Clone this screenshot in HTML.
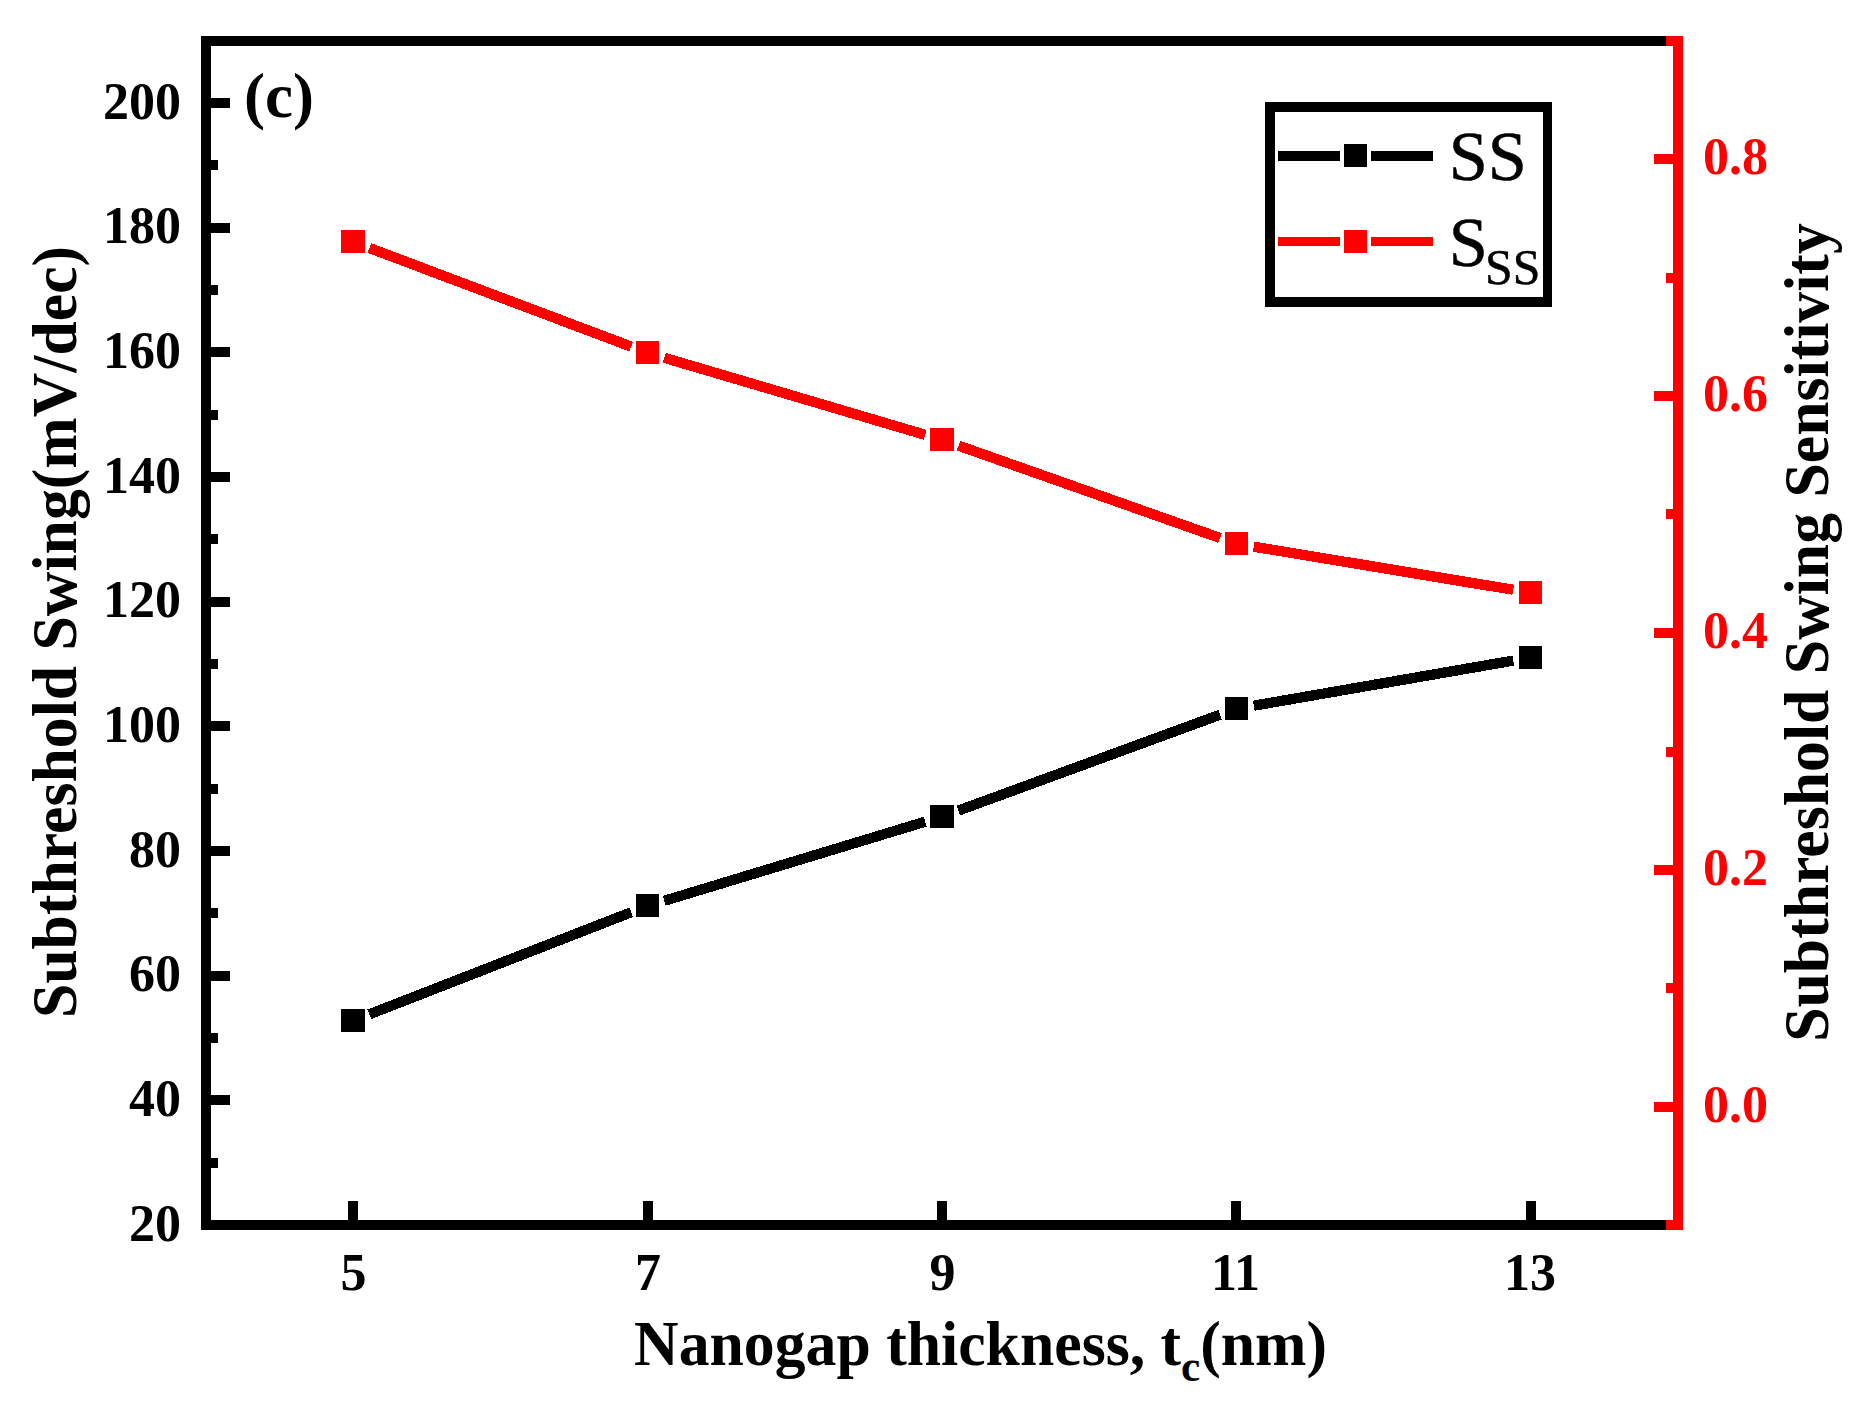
<!DOCTYPE html>
<html lang="en"><head><meta charset="utf-8"><title>Subthreshold Swing vs Nanogap thickness</title>
<style>html,body{margin:0;padding:0;background:#fff;}svg{display:block}text{font-family:"Liberation Serif",serif;}.b{font-weight:bold}.r{stroke:#000;stroke-width:0.5px}</style></head><body>
<svg width="1864" height="1414" viewBox="0 0 1864 1414">
<rect x="0" y="0" width="1864" height="1414" fill="#fff"/>
<g shape-rendering="crispEdges">
<rect x="201" y="36" width="10" height="1194" fill="#000"/>
<rect x="201" y="36" width="1472" height="10" fill="#000"/>
<rect x="201" y="1220" width="1472" height="10" fill="#000"/>
<rect x="1673" y="36" width="10" height="1194" fill="#f00"/>
<rect x="1666" y="36" width="7" height="10" fill="#f00"/>
<rect x="1666" y="1220" width="7" height="10" fill="#f00"/>
<rect x="211" y="1158" width="7" height="10" fill="#000"/>
<rect x="211" y="1095" width="19" height="10" fill="#000"/>
<rect x="211" y="1033" width="7" height="10" fill="#000"/>
<rect x="211" y="971" width="19" height="10" fill="#000"/>
<rect x="211" y="908" width="7" height="10" fill="#000"/>
<rect x="211" y="846" width="19" height="10" fill="#000"/>
<rect x="211" y="784" width="7" height="10" fill="#000"/>
<rect x="211" y="721" width="19" height="10" fill="#000"/>
<rect x="211" y="659" width="7" height="10" fill="#000"/>
<rect x="211" y="597" width="19" height="10" fill="#000"/>
<rect x="211" y="534" width="7" height="10" fill="#000"/>
<rect x="211" y="472" width="19" height="10" fill="#000"/>
<rect x="211" y="410" width="7" height="10" fill="#000"/>
<rect x="211" y="347" width="19" height="10" fill="#000"/>
<rect x="211" y="285" width="7" height="10" fill="#000"/>
<rect x="211" y="223" width="19" height="10" fill="#000"/>
<rect x="211" y="160" width="7" height="10" fill="#000"/>
<rect x="211" y="98" width="19" height="10" fill="#000"/>
<rect x="348" y="1201" width="10" height="19" fill="#000"/>
<rect x="643" y="1201" width="10" height="19" fill="#000"/>
<rect x="937" y="1201" width="10" height="19" fill="#000"/>
<rect x="1231" y="1201" width="10" height="19" fill="#000"/>
<rect x="1526" y="1201" width="10" height="19" fill="#000"/>
<rect x="1654" y="1102" width="19" height="10" fill="#f00"/>
<rect x="1666" y="983" width="7" height="10" fill="#f00"/>
<rect x="1654" y="865" width="19" height="10" fill="#f00"/>
<rect x="1666" y="747" width="7" height="10" fill="#f00"/>
<rect x="1654" y="628" width="19" height="10" fill="#f00"/>
<rect x="1666" y="509" width="7" height="10" fill="#f00"/>
<rect x="1654" y="391" width="19" height="10" fill="#f00"/>
<rect x="1666" y="273" width="7" height="10" fill="#f00"/>
<rect x="1654" y="154" width="19" height="10" fill="#f00"/>
</g>
<g shape-rendering="crispEdges" fill="#000" stroke="#000">
<line x1="369.30" y1="1014.34" x2="631.20" y2="912.26" stroke-width="10.3"/>
<line x1="664.25" y1="900.82" x2="925.25" y2="821.68" stroke-width="10.3"/>
<line x1="958.43" y1="810.58" x2="1220.07" y2="714.72" stroke-width="10.3"/>
<line x1="1253.74" y1="705.70" x2="1513.26" y2="660.60" stroke-width="10.3"/>
<rect x="341" y="1009" width="24" height="23" stroke="none"/>
<rect x="636" y="894" width="23" height="23" stroke="none"/>
<rect x="930" y="805" width="24" height="23" stroke="none"/>
<rect x="1225" y="697" width="23" height="23" stroke="none"/>
<rect x="1519" y="646" width="23" height="23" stroke="none"/>
</g>
<g shape-rendering="crispEdges" fill="#f00" stroke="#f00">
<line x1="369.38" y1="247.97" x2="631.12" y2="346.63" stroke-width="10.3"/>
<line x1="664.28" y1="357.76" x2="925.22" y2="434.84" stroke-width="10.3"/>
<line x1="958.50" y1="445.63" x2="1220.00" y2="537.97" stroke-width="10.3"/>
<line x1="1253.76" y1="546.67" x2="1513.24" y2="589.73" stroke-width="10.3"/>
<rect x="341" y="230" width="24" height="23" stroke="none"/>
<rect x="636" y="341" width="23" height="23" stroke="none"/>
<rect x="930" y="428" width="24" height="23" stroke="none"/>
<rect x="1225" y="532" width="23" height="23" stroke="none"/>
<rect x="1519" y="581" width="23" height="23" stroke="none"/>
</g>
<g shape-rendering="crispEdges">
<rect x="1265" y="102" width="287" height="205" fill="#000"/><rect x="1275" y="112" width="268" height="185" fill="#fff"/>
<rect x="1278" y="151" width="62" height="10" fill="#000"/>
<rect x="1371" y="151" width="62" height="10" fill="#000"/>
<rect x="1344" y="144" width="23" height="23" fill="#000"/>
<rect x="1278" y="237" width="62" height="9" fill="#f00"/>
<rect x="1371" y="237" width="62" height="9" fill="#f00"/>
<rect x="1344" y="230" width="23" height="23" fill="#f00"/>
</g>
<text class="r" id="leg1" x="1448.7" y="179.6" font-size="70.3">SS</text>
<text class="r" id="leg2" x="1448.7" y="265.7" font-size="70.3">S<tspan id="leg2s" dx="-2.7" dy="17.8" font-size="49.7">SS</tspan></text>
<text class="b" id="yl20" x="181" y="1240.6" font-size="52" text-anchor="end">20</text>
<text class="b" id="yl40" x="181" y="1115.9" font-size="52" text-anchor="end">40</text>
<text class="b" id="yl60" x="181" y="991.3" font-size="52" text-anchor="end">60</text>
<text class="b" id="yl80" x="181" y="866.6" font-size="52" text-anchor="end">80</text>
<text class="b" id="yl100" x="181" y="741.9" font-size="52" text-anchor="end">100</text>
<text class="b" id="yl120" x="181" y="617.3" font-size="52" text-anchor="end">120</text>
<text class="b" id="yl140" x="181" y="492.6" font-size="52" text-anchor="end">140</text>
<text class="b" id="yl160" x="181" y="367.9" font-size="52" text-anchor="end">160</text>
<text class="b" id="yl180" x="181" y="243.3" font-size="52" text-anchor="end">180</text>
<text class="b" id="yl200" x="181" y="118.6" font-size="52" text-anchor="end">200</text>
<text class="b" id="xl5" x="353.5" y="1290" font-size="52" text-anchor="middle">5</text>
<text class="b" id="xl7" x="648.0" y="1290" font-size="52" text-anchor="middle">7</text>
<text class="b" id="xl9" x="942.5" y="1290" font-size="52" text-anchor="middle">9</text>
<text class="b" id="xl11" x="1235.5" y="1290" font-size="52" text-anchor="middle">11</text>
<text class="b" id="xl13" x="1530.0" y="1290" font-size="52" text-anchor="middle">13</text>
<text class="b" id="yr0" x="1703" y="1121.9" font-size="52" fill="#f00" color="#f00">0.0</text>
<text class="b" id="yr2" x="1703" y="884.9" font-size="52" fill="#f00" color="#f00">0.2</text>
<text class="b" id="yr4" x="1703" y="647.9" font-size="52" fill="#f00" color="#f00">0.4</text>
<text class="b" id="yr6" x="1703" y="410.9" font-size="52" fill="#f00" color="#f00">0.6</text>
<text class="b" id="yr8" x="1703" y="173.9" font-size="52" fill="#f00" color="#f00">0.8</text>
<text class="b" id="pc" x="244" y="116.5" font-size="63">(c)</text>
<text class="b" id="xt" transform="translate(980.6,1364.8) scale(0.972,1)" font-size="63.5" text-anchor="middle">Nanogap thickness, t<tspan id="xts" dy="16" font-size="44.4">c</tspan><tspan dy="-16">(nm)</tspan></text>
<text class="b" id="ytl" transform="translate(76,632) rotate(-90) scale(0.972,1)" font-size="63.5" text-anchor="middle">Subthreshold Swing(mV/dec)</text>
<text class="b" id="ytr" transform="translate(1827.5,632.5) rotate(-90) scale(0.972,1)" font-size="63.5" text-anchor="middle">Subthreshold Swing Sensitivity</text>
</svg></body></html>
